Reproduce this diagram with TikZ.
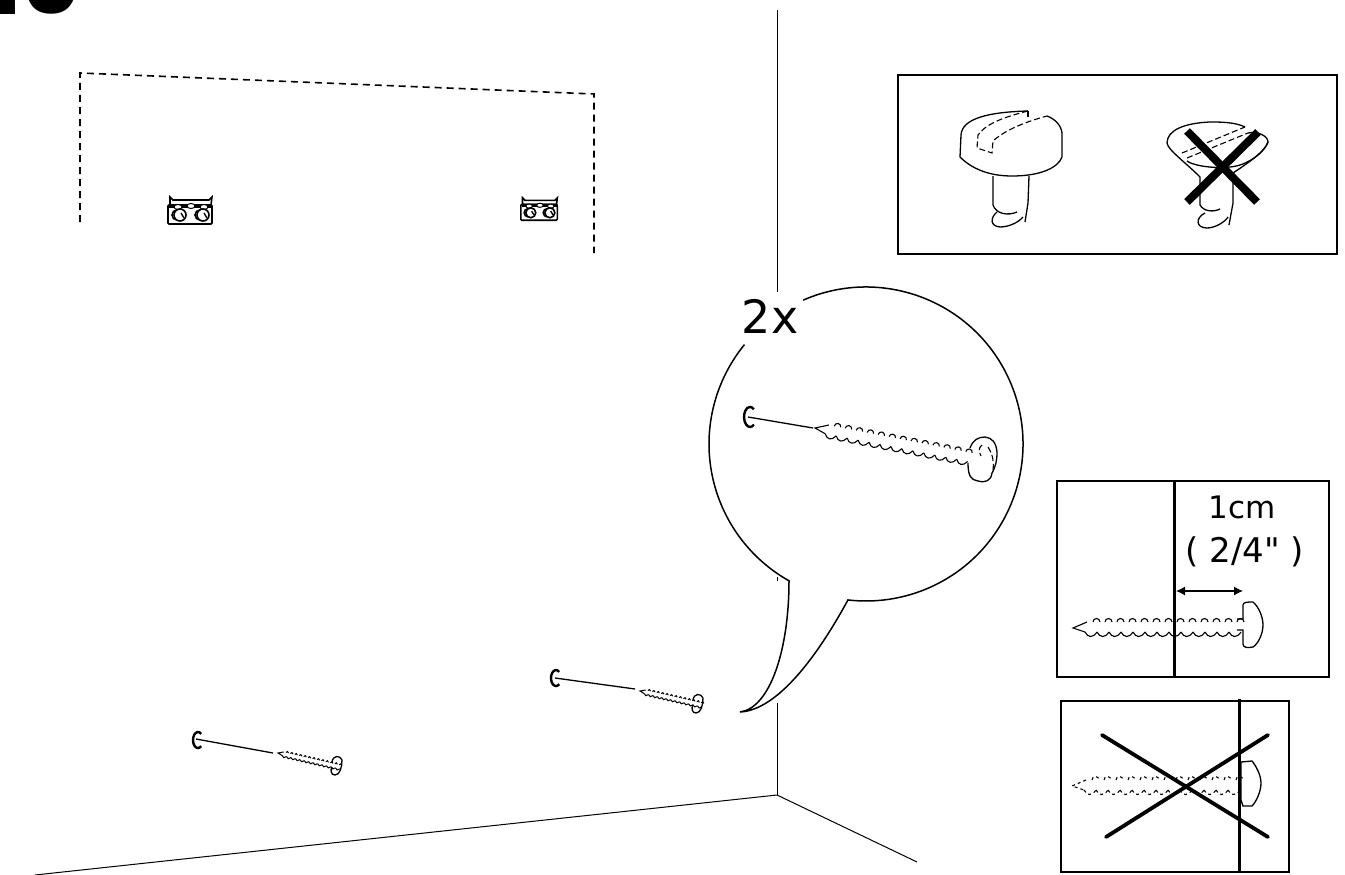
\documentclass[tikz,border=0pt]{standalone}
\usepackage{fontspec}
\newfontfamily\labelfont{DejaVu Sans}
\newfontfamily\stepfont{Poppins}
\usetikzlibrary{arrows.meta}
\begin{document}
\begin{tikzpicture}[x=1pt, y=-1pt]

      \tikzset{room line/.style = {line width=1pt}}
      \tikzset{thin line/.style = {line width=1.3pt}}
      \tikzset{box/.style = {draw,line width=2pt}}
      \tikzset{wall/.style = {line width=1.6pt,dash pattern=on 7pt off 5pt}}
      \tikzset{slot/.style = {line width=1.1pt,dash pattern=on 6pt off 3pt}}
      \tikzset{cross/.style = {line width=3.8pt,line cap=round}}
      \tikzset{hole/.style = {line width=2.4pt}}
      \tikzset{thread/.pic = {
        \draw (14,-6) -- (0,0) -- (12,4);
        \foreach \k in {20,32,...,164} {\draw (\k,-6) arc[start angle=180,end angle=360,radius=3.5];}
        \foreach \k in {12,24,...,156} {\draw (\k,4) .. controls (\k+3,10) and (\k+8,10) .. (\k+12,4);}
      }}
      \tikzset{bracket/.pic = {
        \draw[line width=1.6pt] (3,9) -- (3,1) -- (6,4) -- (42,4) -- (45,1) -- (44,9) -- cycle;
        \draw[line width=1.6pt,rounded corners=1pt] (1,9) rectangle (45,28);
        \fill (2,8) rectangle (44,12);
        \draw[line width=1pt,fill=white] (11,11) ellipse (4 and 2.5);
        \draw[line width=1pt,fill=white] (24,10) ellipse (4 and 2.5);
        \draw[line width=1pt,fill=white] (37,11) ellipse (4 and 2.5);
        \draw[line width=1.6pt] (10,14) arc[start angle=270,end angle=90,radius=5];
        \draw[line width=1.6pt] (33,14) arc[start angle=270,end angle=90,radius=5];
        \draw[line width=1.6pt,fill=white] (13,19) circle (6);
        \draw[line width=1.6pt,fill=white] (36,19) circle (6);
        \draw[line width=1.3pt] (14,17) -- (17,22);
        \draw[line width=1.3pt] (37,17) -- (40,22);
      }}

      \useasboundingbox (0,0) rectangle (1345,875);

      % step number
      \node[anchor=base west,font=\stepfont\bfseries\fontsize{92}{92}\selectfont,inner sep=0pt] (stepno) at (-13,15) {10};

      % room
      \coordinate (corner) at (777,795);
      \draw[room line] (777,10) -- (777,292);
      \draw[room line] (777,577) -- (777,581);
      \draw[room line] (777,703) -- (corner);
      \draw[room line] (corner) -- (35,875);
      \draw[room line] (corner) -- (917,862);

      % outline of the object
      \draw[wall] (80,222) -- (80,73) -- (594,94) -- (594,253);
      \pic[scale=1] at (167,196) {bracket};
      \pic[scale=.83] at (520,197) {bracket};

      % screws on the wall
      \draw[hole] (201.2,733.9) arc[start angle=-50,end angle=-310,x radius=5,y radius=8];
      \draw[thin line] (196,739) -- (273,753);
      \pic[rotate=-13,scale=.38,line width=1pt] at (278,753) {thread};
      \draw[thin line] (332,762) .. controls (333,755) and (340,755) .. (342,760) .. controls (342,767) and (340,775) .. (335,775) .. controls (331,775) and (330,770) .. (332,767);
      \draw[hole] (559.2,671.9) arc[start angle=-50,end angle=-310,x radius=5,y radius=8];
      \draw[thin line] (555,678) -- (635,689);
      \pic[rotate=-13,scale=.38,line width=1pt] at (640,691) {thread};
      \draw[thin line] (693,700) .. controls (694,693) and (701,693) .. (703,698) .. controls (703,705) and (701,713) .. (696,713) .. controls (692,713) and (691,708) .. (693,705);

      % bubble
      \draw[line width=1.5pt] (866,444) ++(-113.6:157) arc[start angle=-113.6,end angle=96.6,radius=157]
        .. controls (818,655) and (778,710) .. (740,712)
        .. controls (770,708) and (789,650) .. (789,581);
      \draw[line width=1.5pt] (866,444) ++(119:157) arc[start angle=119,end angle=219.3,radius=157];
      \node[font=\labelfont\fontsize{46}{46}\selectfont,inner sep=0pt] (times) at (770,316) {2x};
      \draw[hole] (753.9,409.3) arc[start angle=-50,end angle=-310,x radius=6,y radius=10];
      \draw[thin line] (748,417) -- (813,428);
      \pic[rotate=-11,scale=.93,line width=1.1pt] at (815,428) {thread};
      \draw[thin line] (970,448) .. controls (973,440) and (978,437) .. (985,437) .. controls (992,438) and (996,442) .. (997,452) .. controls (997,460) and (996,466) .. (992,473) .. controls (991,481) and (985,483) .. (978,481) .. controls (971,480) and (968,476) .. (968,463);
      \draw[slot] (982,445) .. controls (978,448) and (979,452) .. (981,456);
      \draw[slot] (988,447) .. controls (993,455) and (994,462) .. (993,470);

      % top panel
      \node[box,minimum width=439pt,minimum height=179pt,inner sep=0pt] (panel) at (1117.5,164.5) {};
      \draw[thin line] (1028,111) .. controls (990,112) and (962,118) .. (961,135) -- (960,157) .. controls (975,172) and (995,176) .. (1012,176) .. controls (1040,176) and (1058,168) .. (1062,157) -- (1062,133) .. controls (1061,125) and (1055,119) .. (1047,116);
      \draw[slot] (1028,111) .. controls (1000,118) and (985,125) .. (978,135) -- (977,148) -- (992,153) -- (993,141) .. controls (1005,130) and (1025,122) .. (1047,116);
      \draw[slot] (1028,111) -- (1028,120);
      \draw[thin line] (993,176) -- (993,205) .. controls (996,214) and (1008,216) .. (1017,212);
      \draw[thin line] (1029,176) -- (1028,203) -- (1025,222);
      \draw[thin line] (997,212) .. controls (990,218) and (990,226) .. (1000,227) .. controls (1008,227) and (1018,223) .. (1023,217);

      \draw[thin line] (1245,127) .. controls (1235,122) and (1220,122) .. (1210,122) .. controls (1185,123) and (1167,130) .. (1167,143) .. controls (1168,150) and (1185,162) .. (1200,177) -- (1200,205) .. controls (1204,212) and (1214,212) .. (1220,209);
      \draw[thin line] (1248,133) .. controls (1258,131) and (1268,136) .. (1268,142) .. controls (1265,152) and (1245,165) .. (1233,173) -- (1233,203) -- (1229,225);
      \draw[thin line] (1187,161) .. controls (1195,167) and (1225,170) .. (1240,165) .. controls (1255,160) and (1265,150) .. (1268,142);
      \draw[thin line] (1205,213) .. controls (1195,218) and (1196,228) .. (1207,228) .. controls (1215,228) and (1225,222) .. (1228,217);
      \draw[slot] (1182,153) -- (1245,127);
      \draw[slot] (1187,158) -- (1248,133);
      \draw[line width=8pt] (1187,131) -- (1257,202);
      \draw[line width=8pt] (1258,132) -- (1187,202);

      % correct depth
      \node[box,minimum width=272pt,minimum height=196pt,inner sep=0pt] (good) at (1193,579) {};
      \draw[line width=3pt] (1174,481) -- (1174,677);
      \draw[{Latex[length=9pt,width=9pt]}-{Latex[length=9pt,width=9pt]},line width=1.2pt] (1176,591) -- (1243,591);
      \node[font=\labelfont\fontsize{31}{31}\selectfont,inner sep=0pt] (depth) at (1242,507) {1cm};
      \node[font=\labelfont\fontsize{34}{34}\selectfont,inner sep=0pt] (inch) at (1245,552) {( 2/4" )};
      \pic[line width=1.1pt] at (1073,628) {thread};
      \draw[thin line] (1237,619) -- (1243,619) -- (1243,605) .. controls (1243,602) and (1248,602) .. (1253,602) .. controls (1258,606) and (1263,616) .. (1263,625) .. controls (1263,634) and (1258,644) .. (1253,647) .. controls (1248,648) and (1243,648) .. (1243,644) -- (1243,630) -- (1237,630);

      % wrong depth
      \node[box,minimum width=228pt,minimum height=171pt,inner sep=0pt] (bad) at (1175,786.5) {};
      \draw[line width=3pt] (1239,699) -- (1239,873);
      \pic[dashed,line width=1.1pt] at (1072,786) {thread};
      \draw[thin line] (1241,762) -- (1252,761) .. controls (1256,766) and (1261,775) .. (1261,783) .. controls (1261,792) and (1256,802) .. (1252,806) -- (1243,806) -- (1241,800) -- cycle;
      \draw[cross] (1102,735) -- (1268,837);
      \draw[cross] (1268,735) -- (1106,837);

\end{tikzpicture}
\end{document}
